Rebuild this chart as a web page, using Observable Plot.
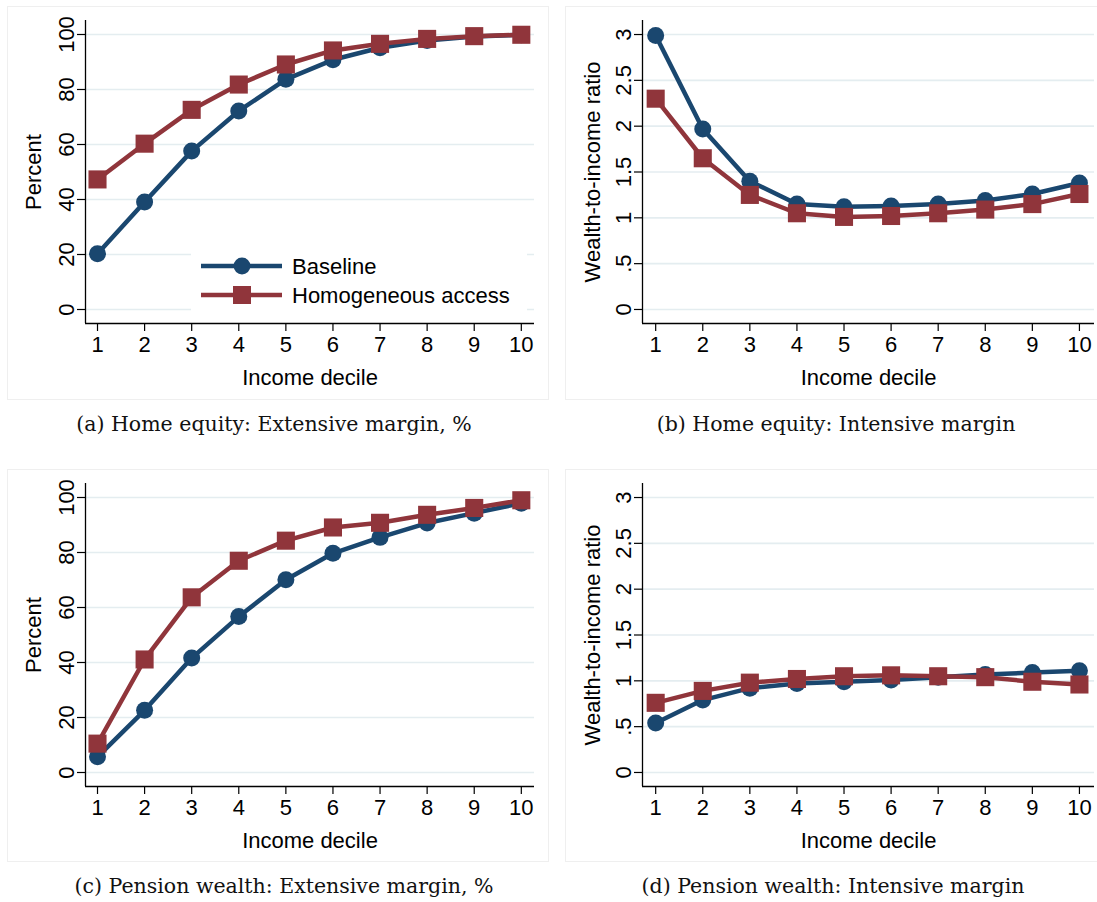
<!DOCTYPE html>
<html><head><meta charset="utf-8">
<script src="https://cdn.jsdelivr.net/npm/d3@7"></script>
<script src="https://cdn.jsdelivr.net/npm/@observablehq/plot@0.6"></script>
<style>
body{margin:0;background:#fff;}
#root{position:relative;width:1097px;height:902px;overflow:hidden;font-family:"Liberation Sans",Arial,sans-serif;background:#fff;}
.box{position:absolute;border:1px solid #efefef;box-sizing:border-box;}
.panel{position:absolute;}
.cap{position:absolute;font-family:"DejaVu Serif",serif;font-size:20.5px;white-space:nowrap;transform:translate(-50%,-50%);color:#111;}
</style></head><body><div id="root"></div>
<script>
// ---- data ----
const deciles = [1,2,3,4,5,6,7,8,9,10];
const seriesNames = ["Baseline","Homogeneous access"];
const homeExtBaseline = [20.3,39.1,57.6,72.2,83.7,90.8,95.2,97.8,99.3,99.9];
const homeExtHomog    = [47.3,60.3,72.6,81.8,89.1,94.2,96.6,98.4,99.4,99.9];
const homeIntBaseline = [2.99,1.97,1.40,1.15,1.12,1.13,1.15,1.19,1.26,1.38];
const homeIntHomog    = [2.30,1.65,1.25,1.05,1.01,1.02,1.05,1.09,1.15,1.26];
const pensExtBaseline = [5.7,22.6,41.6,56.7,70.1,79.7,85.5,90.7,94.3,97.9];
const pensExtHomog    = [10.5,41.1,63.7,77.0,84.3,89.1,90.8,93.7,96.2,99.0];
const pensIntBaseline = [0.54,0.79,0.92,0.97,0.99,1.01,1.04,1.07,1.09,1.11];
const pensIntHomog    = [0.76,0.89,0.98,1.02,1.05,1.06,1.05,1.04,0.99,0.96];
const percentTicks = [0,20,40,60,80,100];
const ratioTicks = [0,0.5,1,1.5,2,2.5,3];
const yLabels = ["Percent","Wealth-to-income ratio"];
const xLabel = "Income decile";
const captions = ["(a) Home equity: Extensive margin, %","(b) Home equity: Intensive margin",
                  "(c) Pension wealth: Extensive margin, %","(d) Pension wealth: Intensive margin"];

// ---- style ----
const NAVY = "#1a476f", MAROON = "#90353b", GRID = "#e4edf0";
const FONT = "'Liberation Sans', Arial, sans-serif";
const FS = 22;
const root = document.getElementById("root");

const ratioFormat = d => d === 0 ? "0" : String(d).replace(/^0\./, ".");

function rowsOf(values){ return deciles.map((d,i)=>({decile:d, value:values[i]})); }

function panel(o){
  const box = document.createElement("div");
  box.className = "box";
  Object.assign(box.style, {left:o.box[0]+"px", top:o.box[1]+"px", width:o.box[2]+"px", height:o.box[3]+"px"});
  root.appendChild(box);
  const base = rowsOf(o.base), homog = rowsOf(o.homog);
  const chart = Plot.plot({
    width: o.width, height: o.height,
    marginTop: o.mt, marginBottom: o.mb, marginLeft: o.ml, marginRight: o.mr,
    style: {fontFamily: FONT, fontSize: FS + "px", color: "#000", background: "transparent", overflow: "visible"},
    x: {domain: o.xDomain},
    y: {domain: o.yDomain},
    marks: [
      Plot.gridY(o.yTicks, {stroke: GRID, strokeOpacity: 1, strokeWidth: 1.6}),
      Plot.ruleX([o.xDomain[0]], {stroke: "#000", strokeWidth: 1.3}),
      Plot.ruleY([o.yDomain[0]], {stroke: "#000", strokeWidth: 1.3}),
      Plot.axisY(o.yTicks, {tickSize: 8, tickPadding: 4, tickRotate: -90, tickFormat: o.yFormat,
        fontSize: FS, strokeWidth: 1.2, label: o.yLabel, labelAnchor: "center", labelOffset: o.lo, labelArrow: "none"}),
      Plot.axisX(deciles, {tickSize: 8, tickPadding: 5, fontSize: FS, strokeWidth: 1.2,
        label: xLabel, labelAnchor: "center", labelOffset: 61, labelArrow: "none"}),
      Plot.line(base, {x: "decile", y: "value", stroke: NAVY, strokeWidth: 4.5}),
      Plot.dot(base, {x: "decile", y: "value", r: 8.5, fill: NAVY, stroke: "none", symbol: "circle"}),
      Plot.line(homog, {x: "decile", y: "value", stroke: MAROON, strokeWidth: 4.5}),
      Plot.dot(homog, {x: "decile", y: "value", r: 10.2, fill: MAROON, stroke: "none", symbol: "square"})
    ]
  });
  const wrap = document.createElement("div");
  wrap.className = "panel";
  wrap.style.left = o.left + "px"; wrap.style.top = o.top + "px";
  wrap.appendChild(chart);
  root.appendChild(wrap);
  const cap = document.createElement("div");
  cap.className = "cap";
  cap.textContent = o.caption;
  cap.style.left = o.cap[0] + "px"; cap.style.top = o.cap[1] + "px";
  root.appendChild(cap);
}

const pctDomain = [-5.09, 105.09];
const ratDomain = [-0.153, 3.153];
panel({left:0, top:0, width:549, height:400, mt:20, mb:77, ml:85, mr:15, xDomain:[0.745,10.28], yDomain:pctDomain,
  yTicks:percentTicks, yFormat:d=>String(d), yLabel:yLabels[0], lo:60, base:homeExtBaseline, homog:homeExtHomog,
  box:[7,6,542,394], caption:captions[0], cap:[274,424]});
panel({left:549, top:0, width:548, height:400, mt:20, mb:77, ml:93, mr:3, xDomain:[0.72,10.32], yDomain:ratDomain,
  yTicks:ratioTicks, yFormat:ratioFormat, yLabel:yLabels[1], lo:58, base:homeIntBaseline, homog:homeIntHomog,
  box:[565,6,540,394], caption:captions[1], cap:[836,424]});
panel({left:0, top:460, width:549, height:402, mt:23, mb:76, ml:85, mr:15, xDomain:[0.745,10.28], yDomain:pctDomain,
  yTicks:percentTicks, yFormat:d=>String(d), yLabel:yLabels[0], lo:60, base:pensExtBaseline, homog:pensExtHomog,
  box:[7,469,542,393], caption:captions[2], cap:[284,886]});
panel({left:549, top:460, width:548, height:402, mt:23, mb:76, ml:93, mr:3, xDomain:[0.72,10.32], yDomain:ratDomain,
  yTicks:ratioTicks, yFormat:ratioFormat, yLabel:yLabels[1], lo:58, base:pensIntBaseline, homog:pensIntHomog,
  box:[565,469,540,393], caption:captions[3], cap:[833,886]});

// ---- legend (panel a) ----
const legend = d3.select(root).append("svg")
  .attr("width", 336).attr("height", 66)
  .style("position", "absolute").style("left", "191px").style("top", "250px");
legend.append("rect").attr("width", 336).attr("height", 66).attr("fill", "#fff");
const legendColors = [NAVY, MAROON];
seriesNames.forEach((name, i) => {
  const g = legend.append("g").attr("transform", `translate(0,${16 + i * 29})`);
  g.append("line").attr("x1", 10).attr("x2", 91).attr("stroke", legendColors[i]).attr("stroke-width", 4.5);
  if (i === 0) g.append("circle").attr("cx", 51).attr("r", 8.4).attr("fill", legendColors[i]);
  else g.append("rect").attr("x", 42).attr("y", -9).attr("width", 18).attr("height", 18).attr("fill", legendColors[i]);
  g.append("text").attr("x", 101).attr("dy", "0.35em").attr("font-family", FONT).attr("font-size", FS).text(name);
});
</script></body></html>
